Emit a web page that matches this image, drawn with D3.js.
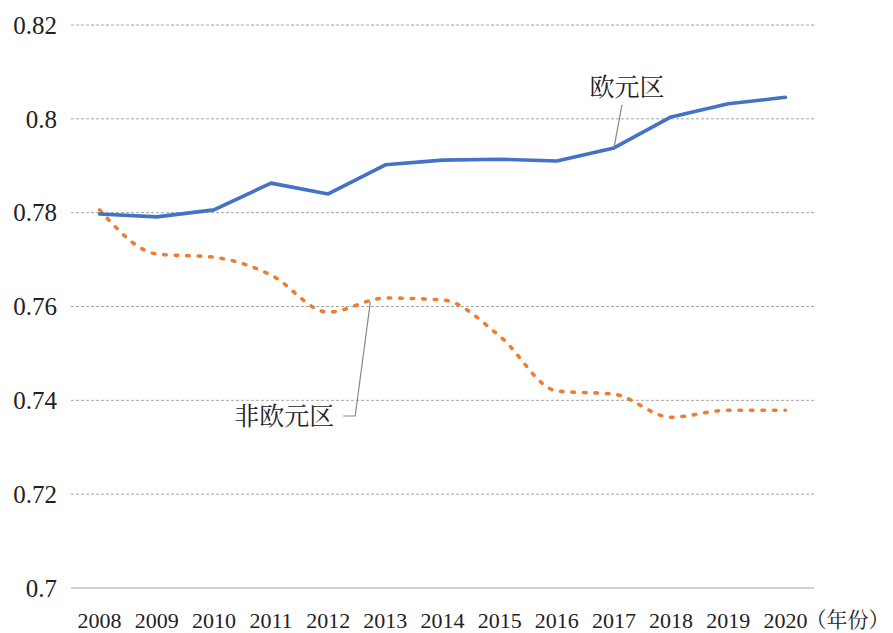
<!DOCTYPE html>
<html>
<head>
<meta charset="utf-8">
<script src="https://cdn.jsdelivr.net/npm/d3@7"></script>
<style>
  body { margin: 0; background: #fff; }
  #chart { width: 893px; height: 633px; }
</style>
</head>
<body>
<div id="chart"></div>
<script>
const years = ["2008","2009","2010","2011","2012","2013","2014","2015","2016","2017","2018","2019","2020"];
const euroArea = [0.7797,0.7791,0.7806,0.7863,0.7840,0.7902,0.7912,0.7914,0.7910,0.7938,0.8004,0.8032,0.8046];
const nonEuroArea = [0.7806,0.7712,0.7705,0.7667,0.7588,0.7618,0.7614,0.7537,0.7420,0.7413,0.7364,0.7379,0.7379];
const yTicks = [0.7,0.72,0.74,0.76,0.78,0.8,0.82];
const yTickLabels = ["0.7","0.72","0.74","0.76","0.78","0.8","0.82"];

const numFont = "Liberation Serif";
const cjkFont = "Noto Serif CJK SC";

const width = 893, height = 633;
const margin = { top: 25, right: 79, bottom: 45, left: 71 };
const innerW = width - margin.left - margin.right;
const innerH = height - margin.top - margin.bottom;

const svg = d3.select("#chart").append("svg")
  .attr("width", width)
  .attr("height", height);

const g = svg.append("g")
  .attr("transform", `translate(${margin.left},${margin.top})`);

// scales
const x = d3.scaleBand().domain(years).range([0, innerW]);
const xc = d => x(d) + x.bandwidth() / 2;
const y = d3.scaleLinear().domain([0.7, 0.82]).range([innerH, 0]);

// grid lines
g.append("g")
  .selectAll("line")
  .data(yTicks.filter(v => v > 0.7))
  .join("line")
  .attr("x1", 0).attr("x2", innerW)
  .attr("y1", d => y(d)).attr("y2", d => y(d))
  .attr("stroke", "#a6a6a6")
  .attr("stroke-width", 1)
  .attr("stroke-dasharray", "3,2");

// bottom axis line
g.append("line")
  .attr("x1", 0).attr("x2", innerW)
  .attr("y1", y(0.7)).attr("y2", y(0.7))
  .attr("stroke", "#a6a6a6")
  .attr("stroke-width", 1.2);

// y labels
g.append("g")
  .selectAll("text")
  .data(yTicks)
  .join("text")
  .attr("font-family", numFont)
  .attr("font-size", 25)
  .attr("fill", "#222")
  .attr("x", -14)
  .attr("y", d => y(d))
  .attr("dy", "0.35em")
  .attr("text-anchor", "end")
  .text((d, i) => yTickLabels[i]);

// x labels
g.append("g")
  .selectAll("text")
  .data(years)
  .join("text")
  .attr("font-family", numFont)
  .attr("font-size", 22)
  .attr("fill", "#222")
  .attr("x", d => xc(d))
  .attr("y", innerH + 40)
  .attr("text-anchor", "middle")
  .text(d => d);

g.append("text")
  .attr("font-family", cjkFont)
  .attr("font-size", 21)
  .attr("fill", "#222")
  .attr("x", xc("2020") + 20)
  .attr("y", innerH + 39)
  .text("（年份）");

// lines
const euroLine = d3.line()
  .x((d, i) => xc(years[i]))
  .y(d => y(d));

const nonEuroLine = d3.line()
  .x((d, i) => xc(years[i]))
  .y(d => y(d))
  .curve(d3.curveMonotoneX);

g.append("path")
  .datum(nonEuroArea)
  .attr("d", nonEuroLine)
  .attr("fill", "none")
  .attr("stroke", "#ed7d31")
  .attr("stroke-width", 3.6)
  .attr("stroke-linecap", "round")
  .attr("stroke-dasharray", "2.5,9");

g.append("path")
  .datum(euroArea)
  .attr("d", euroLine)
  .attr("fill", "none")
  .attr("stroke", "#4472c4")
  .attr("stroke-width", 3.6)
  .attr("stroke-linejoin", "round")
  .attr("stroke-linecap", "round");

// callout labels
g.append("line")
  .attr("x1", xc("2017") + 8).attr("y1", y(0.8) - 14)
  .attr("x2", xc("2017")).attr("y2", y(euroArea[9]))
  .attr("stroke", "#888").attr("stroke-width", 1.2);

g.append("text")
  .attr("font-family", cjkFont)
  .attr("font-size", 25)
  .attr("fill", "#222")
  .attr("x", xc("2017") + 13)
  .attr("y", y(0.8) - 23)
  .attr("text-anchor", "middle")
  .text("欧元区");

const calloutY = y(0.7405) + 18;
g.append("polyline")
  .attr("points", [
    [xc("2012") + 15, calloutY],
    [xc("2012") + 27, calloutY],
    [xc("2013") - 15, y(0.761)]
  ].map(p => p.join(",")).join(" "))
  .attr("fill", "none")
  .attr("stroke", "#888").attr("stroke-width", 1.2);

g.append("text")
  .attr("font-family", cjkFont)
  .attr("font-size", 25)
  .attr("fill", "#222")
  .attr("x", xc("2012") + 6)
  .attr("y", calloutY + 9)
  .attr("text-anchor", "end")
  .text("非欧元区");
</script>
</body>
</html>
